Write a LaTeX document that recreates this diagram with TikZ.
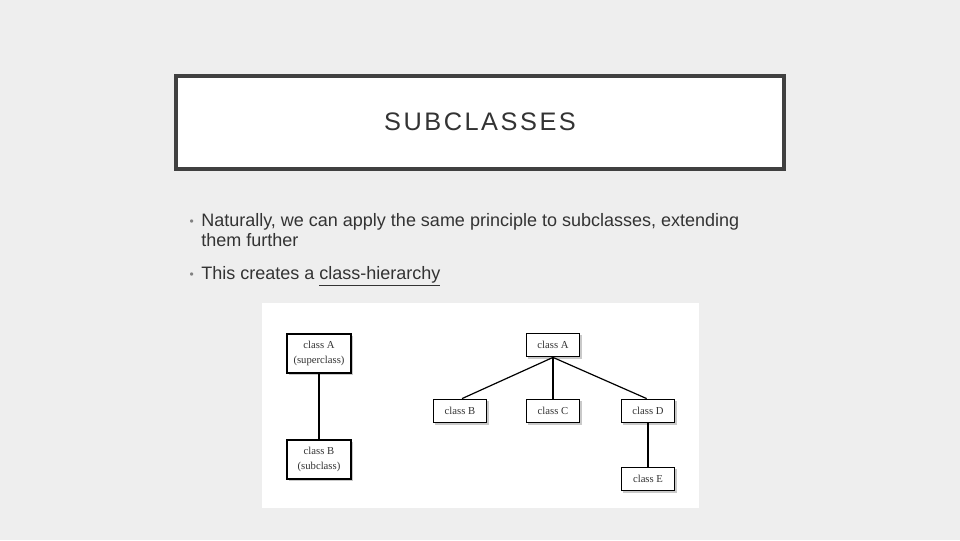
\documentclass[tikz,border=0pt]{standalone}
\usepackage{fontspec}
\setmainfont{Liberation Sans}
\newfontfamily\boxfont{Liberation Serif}
\usetikzlibrary{shadows}
\definecolor{bg}{HTML}{EEEEEE}
\definecolor{txt}{HTML}{333333}
\definecolor{frame}{HTML}{404040}
\begin{document}
\begin{tikzpicture}[x=0.75pt,y=-0.75pt,
  cls/.style={draw=black,line width=1.1pt,fill=white,font=\boxfont\fontsize{8}{9}\selectfont,text=black!80,align=center,inner sep=0pt,
    drop shadow={shadow xshift=1.5pt,shadow yshift=-1.5pt,fill=black!35,opacity=0.6}},
  lnk/.style={line width=0.9pt}]
\fill[bg] (0,0) rectangle (960,540);
\useasboundingbox (0,0) rectangle (960,540);
\draw[frame,line width=2.5pt,fill=white] (176,76) rectangle (784,169);
\node (title) at (480,122) {\color{txt}\fontsize{19}{21}\selectfont\addfontfeature{LetterSpace=10}SUBCLASSES};
\node[anchor=west,text=gray,font=\fontsize{9}{10}\selectfont] (b1) at (185,223) {•};
\node[anchor=north west,text=txt,font=\fontsize{13.5}{15}\selectfont,align=left,inner sep=0pt] (t1) at (201,213) {Naturally, we can apply the same principle to subclasses, extending\\them further};
\node[anchor=west,text=gray,font=\fontsize{9}{10}\selectfont] (b2) at (185,276) {•};
\node[anchor=north west,text=txt,font=\fontsize{13.5}{15}\selectfont,inner sep=0pt] (t2) at (201,266) {This creates a \underline{class-hierarchy}};
\fill[white] (262,303) rectangle (699,508);
\node[cls,minimum width=48pt,minimum height=29pt] (la) at (319,353.5) {class A\\[2pt](superclass)};
\node[cls,minimum width=48pt,minimum height=29pt] (lb) at (319,459.5) {class B\\[2pt](subclass)};
\draw[lnk] (la) -- (lb);
\node[cls,minimum width=40pt,minimum height=17.5pt] (ra) at (553,345) {class A};
\node[cls,minimum width=40pt,minimum height=17.5pt] (rb) at (460,411) {class B};
\node[cls,minimum width=40pt,minimum height=17.5pt] (rc) at (553,411) {class C};
\node[cls,minimum width=40pt,minimum height=17.5pt] (rd) at (648,411) {class D};
\node[cls,minimum width=40pt,minimum height=17.5pt] (re) at (648,479) {class E};
\draw[lnk] (ra.south) -- ([xshift=1.5pt]rb.north);
\draw[lnk] (ra.south) -- (rc.north);
\draw[lnk] (ra.south) -- ([xshift=-1pt]rd.north);
\draw[lnk] (rd) -- (re);
\end{tikzpicture}
\end{document}
